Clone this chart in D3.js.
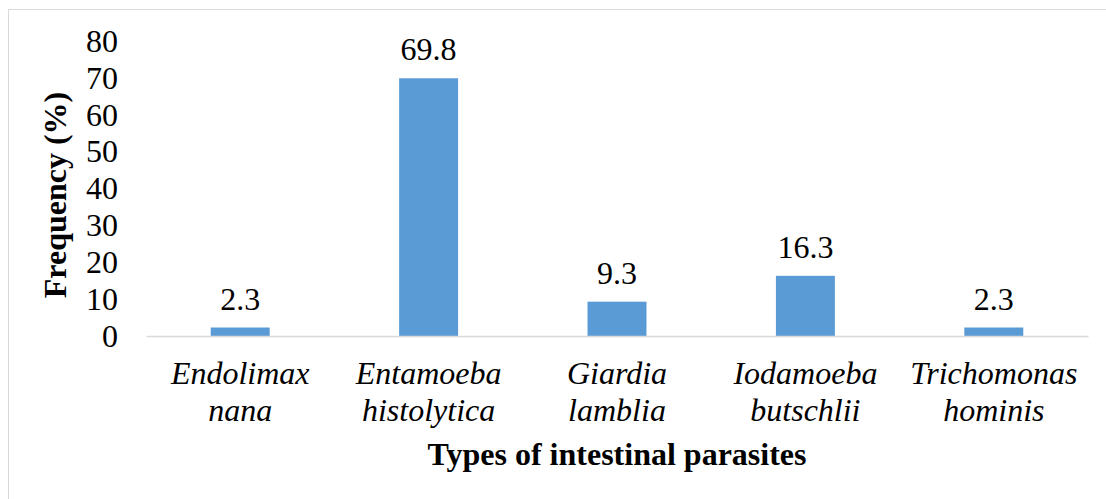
<!DOCTYPE html>
<html><head><meta charset="utf-8">
<script src="https://cdn.jsdelivr.net/npm/d3@7"></script>
<style>body{margin:0;background:#fff}svg{display:block}</style>
</head><body><svg id="c" width="1106" height="499"></svg>
<script>
const categories = [["Endolimax","nana"],["Entamoeba","histolytica"],["Giardia","lamblia"],["Iodamoeba","butschlii"],["Trichomonas","hominis"]];
const values = [2.3, 69.8, 9.3, 16.3, 2.3];
const yTicks = [0,10,20,30,40,50,60,70,80];
const yTitle = "Frequency (%)";
const xTitle = "Types of intestinal parasites";

const FF = "Liberation Serif";
const svg = d3.select("#c");
const fs = 32;
svg.append("rect").attr("x",8.5).attr("y",9.5).attr("width",1120).attr("height",520)
  .attr("fill","none").attr("stroke","#d9d9d9").attr("stroke-width",1);

const x = d3.scaleBand().domain(d3.range(categories.length)).range([146,1088]).padding(0);
const y = d3.scaleLinear().domain([0,80]).range([336,40.6]);
const bw = x.bandwidth()*0.313;

const yAxis = svg.append("g").attr("transform","translate(118,0)")
  .call(d3.axisLeft(y).tickValues(yTicks).tickSize(0).tickPadding(0));
yAxis.attr("font-family",FF).attr("font-size",fs);
yAxis.select(".domain").remove();
yAxis.selectAll("text").attr("dy","0.33em").attr("fill","#000")
  .style("font-family",FF).style("font-size",fs+"px");

svg.selectAll("rect.bar").data(values).join("rect").attr("class","bar")
  .attr("x",(d,i)=>x(i)+x.bandwidth()/2-bw/2).attr("width",bw)
  .attr("y",d=>y(d)).attr("height",d=>y(0)-y(d)).attr("fill","#5B9BD5");

const xAxis = svg.append("g").attr("transform","translate(0,336)")
  .call(d3.axisBottom(x).tickSize(0).tickFormat(""));
xAxis.select(".domain").attr("stroke","#d9d9d9").attr("stroke-width",1.5);

svg.selectAll("text.val").data(values).join("text").attr("class","val")
  .attr("x",(d,i)=>x(i)+x.bandwidth()/2).attr("y",d=>y(d)-18)
  .attr("text-anchor","middle").style("font-family",FF).style("font-size",fs+"px").text(d=>d.toFixed(1));

const lab = svg.selectAll("text.cat").data(categories).join("text").attr("class","cat")
  .attr("text-anchor","middle").style("font-family",FF).style("font-size",fs+"px").style("font-style","italic");
lab.each(function(d,i){
  const t=d3.select(this);
  d.forEach((s,j)=>t.append("tspan").attr("x",x(i)+x.bandwidth()/2).attr("y",384+j*36.5).text(s));
});

svg.append("text").attr("transform","translate(66,195) rotate(-90)").attr("text-anchor","middle")
  .style("font-family",FF).style("font-size",fs+"px").style("font-weight","bold").text(yTitle);
svg.append("text").attr("x",617).attr("y",465).attr("text-anchor","middle")
  .style("font-family",FF).style("font-size",fs+"px").style("font-weight","bold").text(xTitle);
</script></body></html>
